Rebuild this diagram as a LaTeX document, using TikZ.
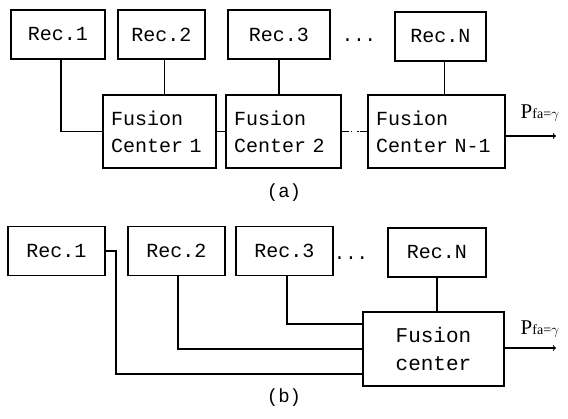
\documentclass[tikz,border=0pt]{standalone}
\usepackage{fontspec}
\setmainfont{Liberation Serif}
\setmonofont{Liberation Mono}
\usepackage{tikz}
\usetikzlibrary{positioning,arrows}

\tikzset{
	rec/.style={draw, line width=1.1pt, inner sep=0pt, minimum height=49pt, font=\ttfamily\fontsize{20}{22}\selectfont},
	fus/.style={draw, line width=1.1pt, inner xsep=8pt, inner ysep=0pt, minimum height=73pt, text width=#1, align=left, font=\ttfamily\fontsize{20}{27}\selectfont},
	wire/.style={line width=1.1pt},
	lbl/.style={font=\ttfamily\fontsize{19}{20}\selectfont}
}
\newcommand{\pfalabel}{{\fontsize{21}{21}\selectfont P}{\fontsize{14}{14}\selectfont fa=$\gamma$}}

\begin{document}
\begin{tikzpicture}[x=1pt, y=-1pt]
\useasboundingbox (0,0) rectangle (568,418);
% (a)
\node[rec, minimum width=94pt]  (r1a) at (58,34.5)  {Rec.1};
\node[rec, minimum width=87pt]  (r2a) at (161.5,34.5) {Rec.2};
\node[rec, minimum width=102pt] (r3a) at (279,34.5) {Rec.3};
\node[lbl] (dotsa) at (359,40) {...};
\node[rec, minimum width=91pt]  (rNa) at (440.5,36.5) {Rec.N};
\node[fus=97pt]  (f1a) at (159.5,131.5) {Fusion\\Center 1};
\node[fus=99pt]  (f2a) at (283.5,131.5) {Fusion\\Center 2};
\node[fus=121pt] (fNa) at (436.5,131.5) {Fusion\\Center N-1};
\draw[wire] ([xshift=3pt]r1a.south) |- (f1a.west);
\draw[wire] ([xshift=3pt]r2a.south) -- ([xshift=3pt]r2a.south |- f1a.north);
\draw[wire] (r3a.south) -- (r3a.south |- f2a.north);
\draw[wire] ([xshift=4pt]rNa.south) -- ([xshift=4pt]rNa.south |- fNa.north);
\draw[wire] (f1a.west -| f1a.east) -- (f2a.west);
\draw[wire] (f2a.east) -- ++(7,0) coordinate (d1);
\draw[wire] (fNa.west) -- ++(-7,0) coordinate (d2);
\draw[line width=1.8pt, dash pattern=on 1.8pt off 5pt, dash phase=-2pt] (d1) -- (d2);
\coordinate (outa) at (556,136);
\draw[wire, ->] (fNa.east |- outa) -- (outa);
\node (pa) at (540,113) {\pfalabel};
\node[lbl] (capa) at (284,193) {(a)};
% (b)
\node[rec, minimum width=97pt] (r1b) at (56.5,251) {Rec.1};
\node[rec, minimum width=97pt] (r2b) at (176.5,251) {Rec.2};
\node[rec, minimum width=97pt] (r3b) at (284.5,251) {Rec.3};
\node[lbl] (dotsb) at (351,258) {...};
\node[rec, minimum width=98pt] (rNb) at (437,252.5) {Rec.N};
\node[draw, line width=1.1pt, minimum width=141pt, minimum height=74pt, align=center,
	font=\ttfamily\fontsize{21}{28}\selectfont] (fc) at (433.5,349) {Fusion\\center};
\coordinate (k1) at (116,251);
\draw[wire] (r1b.east) -- (k1) |- ([yshift=-25pt]fc.west);
\draw[wire] ([xshift=1.5pt]r2b.south) |- (fc.west);
\draw[wire] ([xshift=2.5pt]r3b.south) |- ([yshift=25pt]fc.west);
\draw[wire] (rNb.south) -- (rNb.south |- fc.north);
\coordinate (outb) at (556,348);
\draw[wire, ->] (fc.east |- outb) -- (outb);
\node (pb) at (540,329) {\pfalabel};
\node[lbl] (capb) at (284,398) {(b)};
\end{tikzpicture}
\end{document}
